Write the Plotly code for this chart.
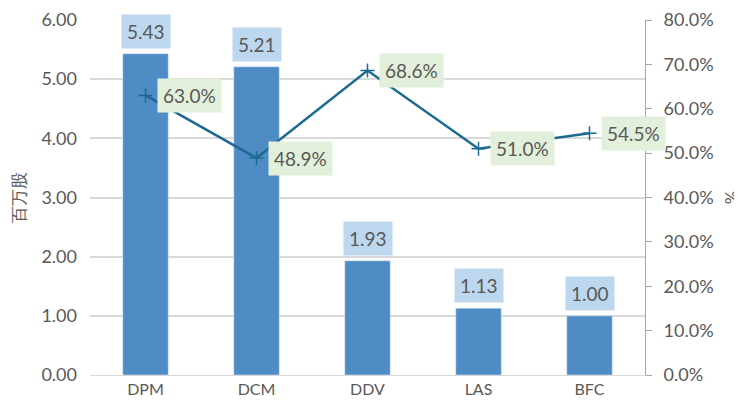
import plotly.graph_objects as go

categories = ["DPM", "DCM", "DDV", "LAS", "BFC"]
shares = [5.43, 5.21, 1.93, 1.13, 1.00]
pct = [63.0, 48.9, 68.6, 51.0, 54.5]
left_ticks = [0, 1, 2, 3, 4, 5, 6]
right_ticks = [0, 10, 20, 30, 40, 50, 60, 70, 80]

FONT = "Lato, 'Open Sans', sans-serif"
TXT = "#595959"

fig = go.Figure()
fig.add_trace(go.Bar(x=categories, y=shares, marker_color="#4F8CC6", width=0.41,
                     name="百万股", showlegend=False))
fig.add_trace(go.Scatter(x=categories, y=pct, yaxis="y2", mode="lines+markers",
                         line=dict(color="#1D6A91", width=2.5),
                         marker=dict(symbol="cross-thin", size=10, line=dict(color="#1D6A91", width=1.5)),
                         showlegend=False))

for c, v in zip(categories, shares):
    fig.add_annotation(x=c, y=v, yref="y", text=f"{v:.2f}", showarrow=False,
                       yanchor="bottom", yshift=5, bgcolor="#BDD7EE",
                       font=dict(size=19, color=TXT, family=FONT), borderpad=5)
for c, v in zip(categories, pct):
    fig.add_annotation(x=c, y=v, yref="y2", text=f"{v:.1f}%", showarrow=False,
                       xanchor="left", xshift=11, yanchor="middle", bgcolor="#E2EFDA",
                       font=dict(size=19, color=TXT, family=FONT), borderpad=5)

fig.update_layout(
    width=734, height=403, margin=dict(l=82, r=97, t=12, b=36, autoexpand=False),
    plot_bgcolor="white", paper_bgcolor="white", bargap=0.59,
    font=dict(family=FONT, color=TXT, size=18),
    xaxis=dict(showline=True, linecolor="#D9D9D9", linewidth=1, ticks="",
               range=[-0.5, len(categories) - 0.5],
               automargin=False, tickfont=dict(size=16, color=TXT)),
    yaxis=dict(range=[0, 6], tickvals=left_ticks, tickformat=".2f",
               tickfont=dict(size=18, color=TXT), automargin=False, ticklabelstandoff=12,
               showgrid=True, gridcolor="#D9D9D9", gridwidth=1.5, zeroline=False,
               title=dict(text="百万股", font=dict(size=17, color="#595959"), standoff=12)),
    yaxis2=dict(range=[0, 80], tickvals=right_ticks,
                ticktext=[f"{t:.1f}%" for t in right_ticks],
                tickfont=dict(size=18, color=TXT), automargin=False, ticklabelstandoff=8,
                overlaying="y", side="right", showgrid=False, zeroline=False,
                showline=True, linecolor="#A6A6A6", linewidth=1,
                ticks="outside", ticklen=6, tickcolor="#A6A6A6",
                title=dict(text="%", font=dict(size=17, color=TXT), standoff=14)),
)
fig.write_html("out.html")
